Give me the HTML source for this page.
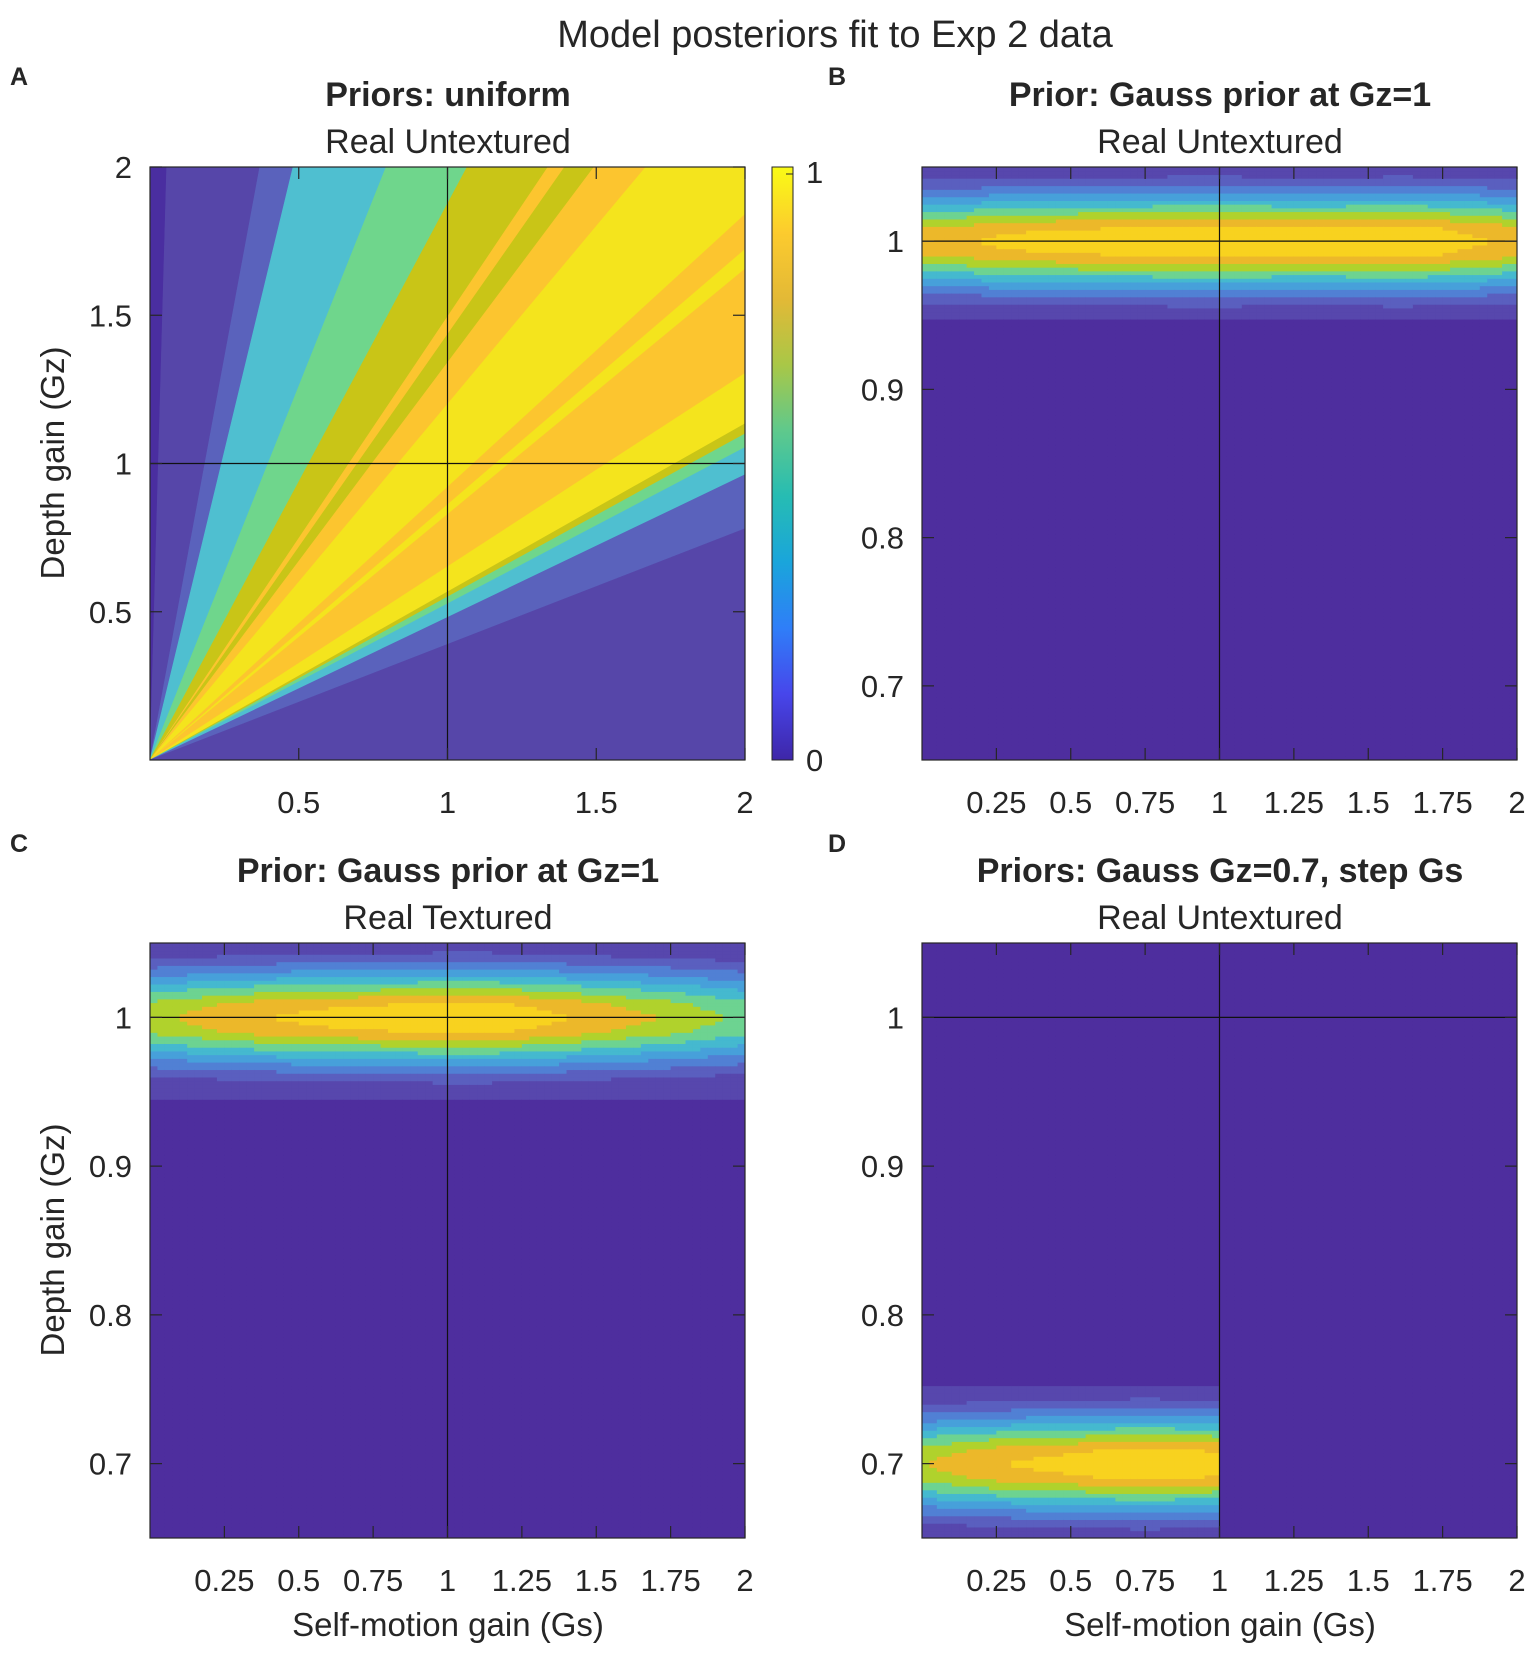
<!DOCTYPE html>
<html><head><meta charset="utf-8"><style>
html,body{margin:0;padding:0;background:#fff}
svg text{font-family:"Liberation Sans",sans-serif;fill:#262626}
</style></head><body>
<svg id="fig" xmlns="http://www.w3.org/2000/svg" width="1535" height="1651" viewBox="0 0 1535 1651">
<text x="835" y="47" font-size="38" text-anchor="middle">Model posteriors fit to Exp 2 data</text>
<text x="10" y="85" font-size="25" font-weight="bold">A</text>
<text x="828" y="85" font-size="25" font-weight="bold">B</text>
<text x="10" y="852" font-size="25" font-weight="bold">C</text>
<text x="828" y="852" font-size="25" font-weight="bold">D</text>
<text x="448" y="106" font-size="34" font-weight="bold" text-anchor="middle">Priors: uniform</text>
<text x="448" y="153" font-size="34" text-anchor="middle">Real Untextured</text>
<text x="1220" y="106" font-size="34" font-weight="bold" text-anchor="middle">Prior: Gauss prior at Gz=1</text>
<text x="1220" y="153" font-size="34" text-anchor="middle">Real Untextured</text>
<text x="448" y="882" font-size="34" font-weight="bold" text-anchor="middle">Prior: Gauss prior at Gz=1</text>
<text x="448" y="929" font-size="34" text-anchor="middle">Real Textured</text>
<text x="1220" y="882" font-size="34" font-weight="bold" text-anchor="middle">Priors: Gauss Gz=0.7, step Gs</text>
<text x="1220" y="929" font-size="34" text-anchor="middle">Real Untextured</text>
<text transform="translate(64,463) rotate(-90)" font-size="33" text-anchor="middle">Depth gain (Gz)</text>
<text transform="translate(64,1240) rotate(-90)" font-size="33" text-anchor="middle">Depth gain (Gz)</text>
<text x="448" y="1636" font-size="33" text-anchor="middle">Self-motion gain (Gs)</text>
<text x="1220" y="1636" font-size="33" text-anchor="middle">Self-motion gain (Gs)</text>
</svg>
<script>
// ---- data ----
const parula = ["#4e2e9e","#5747ad","#5a5fbf","#5180d4","#47a0da","#45b9cf","#6dd391","#b0d22c","#ecb82a","#f8d21f","#f3e41c"];
// Panel A wedge boundaries (slope Gz/Gs), descending, and band colors
const aSlopes = [1000, 35.7, 5.42, 4.16, 2.52, 1.876, 1.495, 1.435, 1.34, 1.2, 0.92, 0.861, 0.828, 0.652, 0.567, 0.55, 0.527, 0.481, 0.39, 0];
const aColors = ["#4a2ea0","#5646a9","#5a62bc","#4fbfd0","#6fd68c","#c9c517","#fcc52f","#c9c517","#fcc52f","#f4e41d","#fcc52f","#f4e41d","#fcc52f","#f4e41d","#c9c517","#6fd68c","#4fbfd0","#5a62bc","#5646a9"];
// Column profiles (Gs samples) and peak posterior
const gsSamples = [0,0.125,0.25,0.375,0.5,0.625,0.75,0.875,1,1.125,1.25,1.375,1.5,1.625,1.75,1.875,2];
const bPeak = [0.86,0.88,0.93,0.95,0.96,0.97,0.98,1.0,1.0,0.99,0.97,0.98,0.99,1.0,0.97,0.92,0.88];
const cPeak = [0.78,0.82,0.87,0.9,0.93,0.95,0.96,0.98,1.0,1.0,0.96,0.92,0.88,0.83,0.79,0.73,0.68];
const dGsSamples = [0,0.125,0.25,0.375,0.5,0.625,0.75,0.875,1,1.0001,2];
const dPeak = [0.8,0.85,0.9,0.93,0.95,0.98,1.0,0.98,0.96,0,0];
// Row profile: offset from prior centre vs relative value
const rowOffsets = [-0.12,-0.06,-0.05,-0.04,-0.03,-0.02,-0.01,0,0.01,0.02,0.03,0.04,0.05,0.06,0.12];
const rowValues = [0,0.06,0.12,0.25,0.46,0.7,0.92,1,0.92,0.7,0.46,0.25,0.12,0.06,0];
const xTicksA = [0.5,1,1.5,2];
const yTicksA = [0.5,1,1.5,2];
const xTicksG = [0.25,0.5,0.75,1,1.25,1.5,1.75,2];
const yTicksG = [0.7,0.8,0.9,1];

const NS="http://www.w3.org/2000/svg";
const svg=document.getElementById('fig');
function mk(tag,attrs,parent){const e=document.createElementNS(NS,tag);for(const k in attrs)e.setAttribute(k,attrs[k]);(parent||svg).appendChild(e);return e;}
function interp(xs,ys,x){if(x<=xs[0])return ys[0];for(let i=1;i<xs.length;i++){if(x<=xs[i]){const t=(x-xs[i-1])/(xs[i]-xs[i-1]);return ys[i-1]+t*(ys[i]-ys[i-1]);}}return ys[ys.length-1];}
function fmt(v){return String(v);}

function axes(p){
  p.sx=v=>p.x0+(v-p.xmin)/(p.xmax-p.xmin)*(p.x1-p.x0);
  p.sy=v=>p.y1-(v-p.ymin)/(p.ymax-p.ymin)*(p.y1-p.y0);
  return p;
}
function frame(p,xt,yt,name){
  const g=mk('g',{});
  
  
  const ln=(x1,y1,x2,y2,c)=>mk('line',{x1,y1,x2,y2,stroke:c||'#262626','stroke-width':1.2},g);
  ln(p.sx(1),p.y0,p.sx(1),p.y1,'#111');
  ln(p.x0,p.sy(1),p.x1,p.sy(1),'#111');
  mk('rect',{x:p.x0,y:p.y0,width:p.x1-p.x0,height:p.y1-p.y0,fill:'none',stroke:'#262626','stroke-width':1.2},g);
  xt.forEach(v=>{const x=p.sx(v);ln(x,p.y1,x,p.y1-12);ln(x,p.y0,x,p.y0+12);
    const t=mk('text',{x:x,y:p.y1+53,'font-size':31,'text-anchor':'middle'},g);t.textContent=fmt(v);
    
    });
  yt.forEach(v=>{const y=p.sy(v);ln(p.x0,y,p.x0+12,y);ln(p.x1,y,p.x1-12,y);
    const t=mk('text',{x:p.x0-18,y:y+11,'font-size':31,'text-anchor':'end'},g);t.textContent=fmt(v);
    
    });
}

// Panel A
const pA=axes({x0:150,x1:745,y0:167,y1:760,xmin:0,xmax:2,ymin:0,ymax:2});
const clip=mk('clipPath',{id:'clipA'});
mk('rect',{x:pA.x0,y:pA.y0,width:pA.x1-pA.x0,height:pA.y1-pA.y0},clip);
const gA=mk('g',{'clip-path':'url(#clipA)'});


function far(s){const L=10;const n=Math.hypot(1,s);return [L/n, L*s/n];}
for(let i=0;i<aColors.length;i++){
  const a=far(aSlopes[i]),b=far(aSlopes[i+1]);
  const pts=[[0,0],a,b].map(q=>pA.sx(q[0])+','+pA.sy(q[1])).join(' ');
  const w=mk('polygon',{points:pts,fill:aColors[i],stroke:aColors[i],'stroke-width':0.6},gA);
  
  
}
frame(pA,xTicksA,yTicksA,'panel-a');
// colorbar
const cb=mk('g',{});


const grad=mk('linearGradient',{id:'par',x1:0,y1:1,x2:0,y2:0});
["#3e26a8","#4746eb","#2f7ef8","#1aa5db","#26bcb3","#5fc98c","#a9c747","#e3b936","#fccb2e","#f9fb15"].forEach((c,i,a)=>mk('stop',{offset:i/(a.length-1),'stop-color':c},grad));
mk('rect',{x:772,y:167,width:21,height:593,fill:'url(#par)',stroke:'#262626','stroke-width':1},cb);
mk('line',{x1:793,y1:174,x2:786,y2:174,stroke:'#262626'},cb);
let t=mk('text',{x:806,y:183,'font-size':31},cb);t.textContent='1';
t=mk('text',{x:806,y:771,'font-size':31},cb);t.textContent='0';

// Gaussian panels
function gPanel(p,xs,peak,centre,cutLo,cutHi,name){
  const g=mk('g',{});
  
  
  const nx=80,ny=160;
  const dx=(p.xmax-p.xmin)/nx,dy=(p.ymax-p.ymin)/ny;
  for(let i=0;i<nx;i++){
    const gs=p.xmin+i*dx;
    const pk=interp(xs,peak,gs+dx/2);
    for(let j=0;j<ny;j++){
      const gz=p.ymin+j*dy;
      const zc=gz+dy/2;
      let v=0;
      if(zc>=cutLo&&zc<=cutHi&&pk>0) v=Math.max(0.1,pk*interp(rowOffsets,rowValues,zc-centre));
      const lvl=Math.min(10,Math.floor(v*10+1e-6));
      const x=p.sx(gs),y=p.sy(gz+dy);
      const w=Math.min(p.sx(gs+dx)-x+0.6,p.x1-x), h=Math.min(p.sy(gz)-y+0.6,p.y1-y);
      mk('rect',{x:x,y:y,width:w,height:h,fill:parula[lvl]},g);
    }
  }
}
const pB=axes({x0:922,x1:1517,y0:167,y1:760,xmin:0,xmax:2,ymin:0.65,ymax:1.05});
gPanel(pB,gsSamples,bPeak,1,0.948,2,'posterior-map-b');frame(pB,xTicksG,yTicksG,'panel-b');
const pC=axes({x0:150,x1:745,y0:943,y1:1538,xmin:0,xmax:2,ymin:0.65,ymax:1.05});
gPanel(pC,gsSamples,cPeak,1,0.945,2,'posterior-map-c');frame(pC,xTicksG,yTicksG,'panel-c');
const pD=axes({x0:922,x1:1517,y0:943,y1:1538,xmin:0,xmax:2,ymin:0.65,ymax:1.05});
gPanel(pD,dGsSamples,dPeak,0.7,0,0.753,'posterior-map-d');frame(pD,xTicksG,yTicksG,'panel-d');
</script>
</body></html>
